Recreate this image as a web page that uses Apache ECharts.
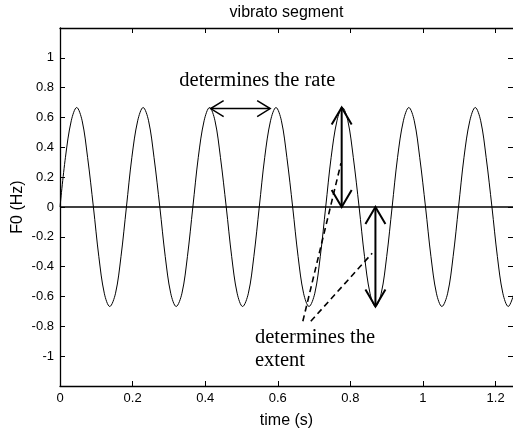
<!DOCTYPE html>
<html>
<head>
<meta charset="utf-8">
<title>vibrato segment</title>
<script src="https://cdn.jsdelivr.net/npm/echarts@6/dist/echarts.min.js"></script>
<style>
  html, body { margin: 0; padding: 0; background: #fff; }
  #chart { width: 513px; height: 428px; }
</style>
</head>
<body>
<div id="chart"></div>
<script>
// samples of the F0 contour (seconds / Hz)
var timeS = [
  0, 0.015, 0.031, 0.046, 0.061, 0.076, 0.092, 0.107, 0.122, 0.137, 0.153, 0.168,
  0.183, 0.198, 0.214, 0.229, 0.244, 0.259, 0.275, 0.290, 0.305, 0.320, 0.336, 0.351,
  0.366, 0.381, 0.397, 0.412, 0.427, 0.442, 0.458, 0.473, 0.488, 0.503, 0.519, 0.534,
  0.549, 0.564, 0.580, 0.595, 0.610, 0.625, 0.641, 0.656, 0.671, 0.686, 0.702, 0.717,
  0.732, 0.747, 0.763, 0.778, 0.793, 0.808, 0.824, 0.839, 0.854, 0.869, 0.885, 0.900,
  0.915, 0.930, 0.946, 0.961, 0.976, 0.991, 1.007, 1.022, 1.037, 1.052, 1.068, 1.083,
  1.098, 1.113, 1.129, 1.144, 1.159, 1.174, 1.190, 1.205, 1.220, 1.235, 1.251
]
var f0Hz = [
  0, 0.333, 0.578, 0.667, 0.578, 0.333, 0, -0.333, -0.578, -0.667, -0.578, -0.333,
  0, 0.333, 0.578, 0.667, 0.578, 0.333, 0, -0.333, -0.578, -0.667, -0.578, -0.333,
  0, 0.333, 0.578, 0.667, 0.578, 0.333, 0, -0.333, -0.578, -0.667, -0.578, -0.333,
  0, 0.333, 0.578, 0.667, 0.578, 0.333, 0, -0.333, -0.578, -0.667, -0.578, -0.333,
  0, 0.333, 0.578, 0.667, 0.578, 0.333, 0, -0.333, -0.578, -0.667, -0.578, -0.333,
  0, 0.333, 0.578, 0.667, 0.578, 0.333, 0, -0.333, -0.578, -0.667, -0.578, -0.333,
  0, 0.333, 0.578, 0.667, 0.578, 0.333, 0, -0.333, -0.578, -0.667, -0.578
]
var xRange = [0, 1.248]
var yRange = [-1.2, 1.2]
var tickStep = 0.2
var zeroLine = [[0, 0], [1.248, 0]]

// annotations, in data units
var rateArrow = [[0.415, 0.66], [0.579, 0.66]]
var extentArrowUp = [[0.776, 0.667], [0.776, 0]]
var extentArrowDown = [[0.869, 0], [0.869, -0.667]]
var leaderLines = [
  [[0.669, -0.766], [0.774, 0.293]],
  [[0.691, -0.766], [0.860, -0.31]]
]
var notes = [
  { text: 'determines the rate', at: [0.3287, 0.85] },
  { text: 'determines the', at: [0.537, -0.873] },
  { text: 'extent', at: [0.537, -1.03] }
]

var SANS = '"Liberation Sans", Arial, sans-serif'
var SERIF = '"Liberation Serif", "Times New Roman", serif'
var INK = '#000'

function frameAxis(position, extra) {
  var axis = {
    type: 'value',
    position: position,
    interval: tickStep,
    axisLine: { show: true, onZero: false, lineStyle: { color: INK, width: 1.3 } },
    axisTick: { show: true, inside: true, length: 5, lineStyle: { color: INK, width: 1 } },
    splitLine: { show: false },
    axisLabel: { show: false }
  }
  return Object.assign(axis, extra)
}

var tickLabel = { show: true, color: INK, fontFamily: SANS, fontSize: 13, showMinLabel: false, showMaxLabel: false }

var chart = echarts.init(document.getElementById('chart'))

chart.setOption({
  animation: false,
  backgroundColor: '#fff',
  grid: { left: 60, top: 28, right: 0, bottom: 42, containLabel: false, outerBoundsMode: 'none' },
  xAxis: [
    frameAxis('bottom', {
      min: xRange[0], max: xRange[1],
      axisLabel: Object.assign({}, tickLabel, { margin: 6, showMinLabel: true }),
      name: 'time (s)', nameLocation: 'middle', nameGap: 27, nameMoveOverlap: false,
      nameTextStyle: { color: INK, fontFamily: SANS, fontSize: 16 }
    }),
    frameAxis('top', { min: xRange[0], max: xRange[1] })
  ],
  yAxis: [
    frameAxis('left', {
      min: yRange[0], max: yRange[1],
      axisLabel: Object.assign({}, tickLabel, { margin: 6 }),
      name: 'F0 (Hz)', nameLocation: 'middle', nameGap: 34, nameRotate: 90, nameMoveOverlap: false,
      nameTextStyle: { color: INK, fontFamily: SANS, fontSize: 16 }
    }),
    frameAxis('right', {
      min: yRange[0], max: yRange[1],
      axisLine: { show: false, onZero: false }
    })
  ],
  series: [
    {
      name: 'F0',
      type: 'line',
      data: timeS.map(function (t, i) { return [t, f0Hz[i]] }),
      smooth: 0.35,
      symbol: 'none',
      lineStyle: { color: INK, width: 1 },
      clip: true
    },
    {
      name: 'zero',
      type: 'line',
      data: zeroLine,
      symbol: 'none',
      lineStyle: { color: INK, width: 1.5 }
    }
  ]
})

function toPx(p) {
  return chart.convertToPixel({ xAxisIndex: 0, yAxisIndex: 0 }, p)
}

// open chevron head at `tip`, pointing away from `from`
function chevron(tip, from, len, half, width) {
  var dx = from[0] - tip[0]
  var dy = from[1] - tip[1]
  var d = Math.sqrt(dx * dx + dy * dy)
  var ux = dx / d
  var uy = dy / d
  var bx = tip[0] + ux * len
  var by = tip[1] + uy * len
  return {
    type: 'polyline',
    shape: { points: [[bx - uy * half, by + ux * half], tip, [bx + uy * half, by - ux * half]] },
    style: { stroke: INK, lineWidth: width, fill: null }
  }
}

function doubleArrow(pair, len, half, width) {
  var a = toPx(pair[0])
  var b = toPx(pair[1])
  return [
    { type: 'line', shape: { x1: a[0], y1: a[1], x2: b[0], y2: b[1] }, style: { stroke: INK, lineWidth: width } },
    chevron(a, b, len, half, width),
    chevron(b, a, len, half, width)
  ]
}

var elements = []
elements = elements.concat(doubleArrow(rateArrow, 13, 8, 1.5))
elements = elements.concat(doubleArrow(extentArrowUp, 17, 10, 2))
elements = elements.concat(doubleArrow(extentArrowDown, 17, 10, 2))

leaderLines.forEach(function (seg) {
  var a = toPx(seg[0])
  var b = toPx(seg[1])
  elements.push({
    type: 'line',
    shape: { x1: a[0], y1: a[1], x2: b[0], y2: b[1] },
    style: { stroke: INK, lineWidth: 1.6, lineDash: [6, 4] }
  })
})

notes.forEach(function (n) {
  var p = toPx(n.at)
  elements.push({
    type: 'text',
    x: p[0],
    y: p[1],
    style: { text: n.text, font: '20.5px ' + SERIF, fill: INK, align: 'left', verticalAlign: 'middle' }
  })
})

var titleAnchor = toPx([(xRange[0] + xRange[1]) / 2, yRange[1]])
elements.push({
  type: 'text',
  x: titleAnchor[0],
  y: 13,
  style: { text: 'vibrato segment', font: '16px ' + SANS, fill: INK, align: 'center', verticalAlign: 'middle' }
})

chart.setOption({ graphic: { elements: elements } })
</script>
</body>
</html>
